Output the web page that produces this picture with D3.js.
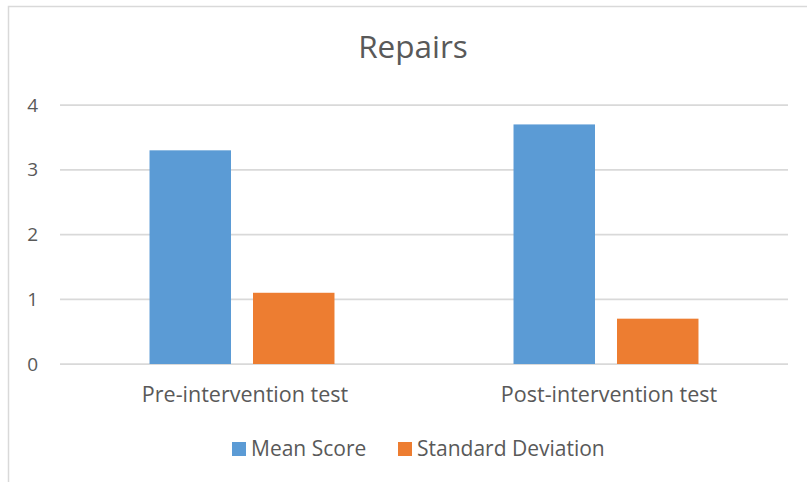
<!DOCTYPE html>
<html>
<head>
<meta charset="utf-8">
<script src="https://cdn.jsdelivr.net/npm/d3@7"></script>
<style>
  body { margin: 0; background: #fff; }
  text { font-family: "Open Sans", sans-serif; fill: #595959; }
</style>
</head>
<body>
<div id="chart"></div>
<script>
const categories = ['Pre-intervention test', 'Post-intervention test'];
const seriesNames = ['Mean Score', 'Standard Deviation'];
const meanScore = [3.3, 3.7];
const stdDev = [1.1, 0.7];
const yTicks = [0, 1, 2, 3, 4];
const colors = ['#5B9BD5', '#ED7D31'];

const W = 807, H = 483;
const plot = { left: 60, right: 788, top: 105, bottom: 364 };

const svg = d3.select('#chart').append('svg')
  .attr('width', W).attr('height', H);

// chart frame (only top and left edges fall inside the window)
svg.append('path')
  .attr('d', `M8.5,482 V6.5 H${W}`)
  .attr('fill', 'none')
  .attr('stroke', '#D9D9D9')
  .attr('stroke-width', 1.5);

svg.append('text')
  .attr('x', 413).attr('y', 58)
  .attr('text-anchor', 'middle')
  .style('font-size', '31.5px')
  .text('Repairs');

const x0 = d3.scaleBand()
  .domain(categories)
  .range([plot.left, plot.right])
  .padding(0);

const x1 = d3.scaleBand()
  .domain(seriesNames)
  .range([0, x0.bandwidth()])
  .paddingInner(0.2126)
  .paddingOuter(0.865);

const y = d3.scaleLinear()
  .domain([0, 4])
  .range([plot.bottom, plot.top]);

// gridlines
svg.append('g')
  .selectAll('line')
  .data(yTicks)
  .enter().append('line')
  .attr('x1', plot.left).attr('x2', plot.right)
  .attr('y1', d => y(d)).attr('y2', d => y(d))
  .attr('stroke', '#D9D9D9')
  .attr('stroke-width', 1.75);

// y axis labels
const yAxis = svg.append('g')
  .attr('transform', `translate(${plot.left - 22},0)`)
  .call(d3.axisLeft(y).tickValues(yTicks).tickSize(0).tickPadding(0).tickFormat(d3.format('d')));
yAxis.select('.domain').remove();
yAxis.selectAll('text')
  .attr('fill', '#595959')
  .style('font-family', '"Open Sans", sans-serif')
  .style('font-size', '19px');

const rows = categories.map((c, i) => ({ cat: c, values: [meanScore[i], stdDev[i]] }));

const groups = svg.append('g')
  .selectAll('g')
  .data(rows)
  .enter().append('g')
  .attr('transform', d => `translate(${x0(d.cat)},0)`);

groups.selectAll('rect')
  .data(d => d.values.map((v, j) => ({ name: seriesNames[j], value: v, color: colors[j] })))
  .enter().append('rect')
  .attr('x', d => x1(d.name))
  .attr('width', x1.bandwidth())
  .attr('y', d => y(d.value))
  .attr('height', d => y(0) - y(d.value))
  .attr('fill', d => d.color);

// category axis
const xAxis = svg.append('g')
  .attr('transform', `translate(${3},${plot.bottom + 38})`)
  .call(d3.axisBottom(x0).tickSize(0).tickPadding(0));
xAxis.select('.domain').remove();
xAxis.selectAll('text')
  .attr('fill', '#595959')
  .attr('dy', 0)
  .style('font-family', '"Open Sans", sans-serif')
  .style('font-size', '21.5px');

// legend
const legendX = [232, 398];
const legend = svg.append('g')
  .selectAll('g')
  .data(seriesNames)
  .enter().append('g')
  .attr('transform', (d, i) => `translate(${legendX[i]},442)`);

legend.append('rect')
  .attr('width', 14).attr('height', 14)
  .attr('fill', (d, i) => colors[i]);

legend.append('text')
  .attr('x', 19).attr('y', 14)
  .style('font-size', '21px')
  .text(d => d);
</script>
</body>
</html>
